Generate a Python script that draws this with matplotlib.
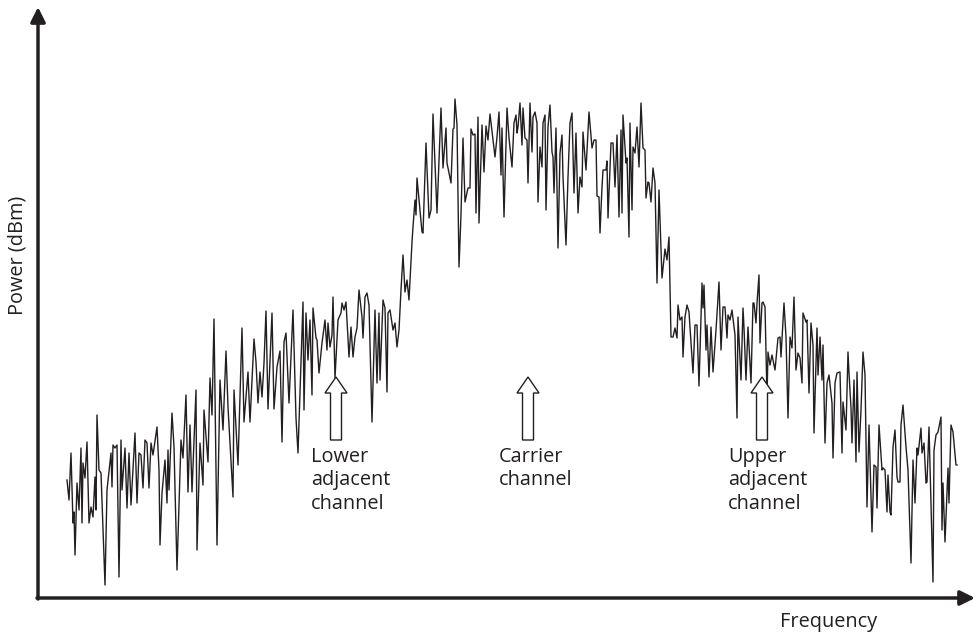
import matplotlib
matplotlib.use('Agg')
import matplotlib.pyplot as plt
from matplotlib.patches import FancyArrow

plt.rcParams['font.family'] = ['Open Sans', 'DejaVu Sans']

# 频谱迹线：频率点(任意单位) 与 相对功率电平(任意单位)
freq = [67, 69, 71, 73, 74, 75, 77, 79, 81, 82, 83, 85, 87, 89, 91, 93, 95, 96, 97, 99,
        101, 105, 107, 111, 112, 113, 115, 117, 119, 121, 122, 125, 127, 129, 131, 135, 137, 139, 141, 143,
        145, 147, 149, 151, 153, 157, 159, 160, 162, 165, 167, 168, 169, 172, 174, 177, 181, 183, 186, 188,
        190, 192, 196, 197, 200, 203, 204, 208, 210, 212, 214, 217, 220, 223, 226, 228, 233, 234, 238, 242,
        244, 248, 250, 254, 256, 258, 260, 262, 264, 266, 268, 272, 274, 277, 280, 282, 284, 286, 289, 293,
        296, 298, 301, 303, 304, 306, 308, 310, 312, 313, 316, 317, 319, 322, 325, 327, 328, 330, 332, 333,
        335, 338, 341, 342, 344, 346, 349, 351, 353, 355, 357, 359, 362, 363, 365, 367, 369, 372, 375, 377,
        379, 380, 383, 385, 387, 388, 390, 393, 395, 397, 399, 401, 403, 405, 407, 409, 412, 413, 415, 416,
        417, 419, 422, 423, 426, 429, 431, 433, 437, 441, 443, 446, 447, 451, 453, 454, 455, 457, 459, 461,
        463, 465, 468, 470, 471, 473, 475, 476, 478, 479, 482, 484, 486, 488, 490, 493, 495, 497, 499, 501,
        502, 504, 507, 509, 512, 514, 516, 517, 518, 520, 522, 523, 525, 527, 528, 530, 532, 533, 535, 537,
        538, 540, 542, 543, 545, 546, 548, 550, 552, 553, 554, 556, 558, 560, 562, 563, 566, 568, 570, 572,
        574, 576, 578, 580, 582, 583, 586, 589, 592, 594, 596, 597, 599, 600, 602, 603, 606, 607, 608, 611,
        613, 615, 617, 619, 621, 622, 623, 626, 627, 629, 630, 632, 633, 635, 637, 639, 641, 643, 645, 646,
        648, 649, 651, 653, 655, 657, 659, 662, 665, 667, 669, 671, 673, 675, 677, 678, 680, 682, 683, 685,
        687, 689, 693, 695, 697, 699, 702, 703, 704, 706, 707, 709, 711, 713, 716, 719, 721, 723, 725, 727,
        728, 730, 732, 735, 737, 738, 741, 743, 744, 746, 748, 751, 753, 754, 756, 757, 759, 760, 762, 763,
        765, 767, 768, 770, 772, 773, 775, 777, 778, 780, 781, 784, 786, 788, 790, 792, 794, 796, 798, 800,
        802, 803, 806, 807, 809, 811, 813, 814, 817, 818, 820, 822, 823, 825, 827, 829, 832, 833, 835, 837,
        840, 842, 843, 846, 848, 849, 851, 852, 854, 856, 857, 859, 861, 863, 865, 867, 869, 872, 874, 876,
        877, 879, 882, 883, 885, 887, 888, 890, 891, 893, 895, 897, 898, 900, 901, 903, 906, 908, 911, 913,
        915, 917, 918, 921, 922, 924, 926, 927, 929, 933, 934, 936, 938, 941, 942, 943, 945, 948, 949, 951,
        953, 956, 957]
level = [120, 100, 147, 77, 88, 45, 117, 90, 152, 77, 137, 122, 158, 77, 93, 83, 123, 90, 185, 130,
         127, 15, 110, 147, 113, 155, 152, 155, 23, 160, 110, 152, 92, 147, 95, 167, 97, 147, 145, 112,
         160, 157, 112, 157, 145, 173, 130, 55, 107, 140, 97, 150, 110, 187, 153, 30, 160, 142, 205, 108,
         175, 108, 210, 50, 157, 115, 190, 138, 222, 185, 281, 55, 220, 170, 249, 193, 103, 210, 135, 272,
         178, 228, 178, 261, 238, 197, 228, 203, 237, 289, 191, 287, 191, 233, 249, 158, 258, 267, 197, 290,
         182, 147, 238, 298, 190, 287, 240, 280, 205, 292, 262, 260, 227, 257, 280, 250, 277, 253, 265, 303,
         222, 280, 287, 297, 290, 298, 243, 273, 243, 263, 272, 310, 283, 262, 303, 307, 295, 178, 290, 217,
         287, 220, 300, 292, 208, 287, 290, 270, 277, 253, 270, 310, 345, 308, 320, 300, 358, 373, 400, 385,
         422, 400, 368, 367, 457, 382, 390, 486, 387, 492, 432, 472, 437, 417, 471, 472, 501, 475, 333, 385,
         462, 398, 412, 412, 471, 465, 466, 387, 483, 377, 475, 428, 474, 460, 486, 460, 443, 463, 488, 425,
         472, 383, 492, 462, 433, 477, 485, 467, 473, 497, 455, 492, 462, 460, 417, 497, 448, 483, 488, 477,
         398, 453, 433, 477, 485, 390, 473, 495, 448, 443, 407, 472, 352, 447, 465, 423, 355, 423, 477, 487,
         407, 467, 387, 423, 413, 468, 430, 488, 452, 460, 460, 404, 403, 367, 413, 430, 430, 439, 382, 457,
         457, 413, 465, 383, 470, 387, 485, 437, 442, 363, 477, 390, 453, 447, 473, 433, 497, 452, 450, 402,
         418, 417, 398, 432, 417, 317, 410, 322, 351, 340, 363, 263, 263, 272, 262, 295, 280, 283, 243, 283,
         295, 288, 227, 275, 275, 214, 317, 292, 315, 250, 275, 223, 273, 228, 270, 318, 250, 293, 293, 262,
         285, 280, 290, 265, 182, 283, 220, 292, 272, 220, 273, 217, 297, 297, 277, 297, 325, 257, 297, 298,
         293, 203, 248, 235, 245, 240, 230, 252, 262, 263, 243, 297, 263, 182, 263, 252, 303, 230, 247, 242,
         217, 287, 278, 280, 207, 277, 255, 167, 272, 225, 263, 220, 255, 157, 217, 225, 197, 142, 217, 227,
         228, 147, 198, 170, 248, 227, 192, 157, 220, 138, 228, 148, 190, 248, 225, 93, 175, 68, 135, 133,
         92, 175, 130, 132, 130, 88, 125, 88, 85, 153, 170, 123, 118, 118, 175, 195, 153, 130, 37, 140,
         97, 152, 145, 172, 147, 157, 117, 118, 173, 18, 150, 165, 168, 183, 70, 117, 58, 132, 97, 175,
         168, 135, 135]

# 三个信道的中心频率与标注
channel_freq = [336, 528, 762]
channel_text = ['Lower\nadjacent\nchannel', 'Carrier\nchannel', 'Upper\nadjacent\nchannel']
label_left = [311, 499, 728]

ink = '#231f20'
fs = 14.3

fig = plt.figure(figsize=(9.75, 6.33), dpi=100)
ax = fig.add_axes([0, 0, 1, 1])
ax.set_xlim(0, 975)
ax.set_ylim(-33, 600)
ax.axis('off')

ax.plot(freq, level, color=ink, lw=1.0, zorder=2)

# 坐标轴（带箭头）
ax.annotate('', xy=(38, 593), xytext=(38, 1),
            arrowprops=dict(arrowstyle='-|>', color=ink, lw=2.5, mutation_scale=22, shrinkA=0, shrinkB=0))
ax.annotate('', xy=(975, 2), xytext=(37, 2),
            arrowprops=dict(arrowstyle='-|>', color=ink, lw=2.5, mutation_scale=22, shrinkA=0, shrinkB=0))

ax.text(18, 345, 'Power (dBm)', rotation=90, ha='center', va='center', fontsize=fs, color=ink)
ax.text(780, -22, 'Frequency', ha='left', va='center', fontsize=fs, color=ink)

# 空心箭头 + 信道说明
for f, t, lx in zip(channel_freq, channel_text, label_left):
    arr = FancyArrow(f, 160, 0, 63, width=11, head_width=22, head_length=16,
                     length_includes_head=True, facecolor='white', edgecolor=ink, lw=1.0, zorder=3)
    ax.add_patch(arr)
    ax.text(lx, 153, t, ha='left', va='top', fontsize=fs, color=ink, linespacing=1.23)

fig.savefig('out.png', dpi=100)
